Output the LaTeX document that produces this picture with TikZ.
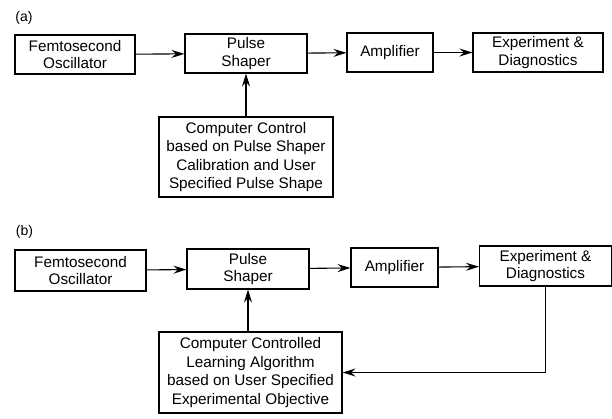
\documentclass[tikz,border=0pt]{standalone}
\usepackage{fontspec}
\setmainfont{Liberation Sans}
\usetikzlibrary{arrows.meta}
\begin{document}
\begin{tikzpicture}[x=1pt, y=-1pt, >={Stealth[length=13pt,width=8pt,inset=4.5pt]}, line width=1.1pt,
  block/.style={draw, align=center, inner sep=0pt, minimum height=39pt, font=\fontsize{15.3}{17.5}\selectfont}]
\useasboundingbox (0,0) rectangle (612,418);
% (a) open loop
\node at (24,18) (labela) {\fontsize{14}{16}\selectfont (a)};
\node[block, minimum width=120pt] at (75,54.5)  (osca)    {Femtosecond\\Oscillator};
\node[block, minimum width=122pt] at (246,53.5) (shapera) {Pulse\\Shaper};
\node[block, minimum width=86pt]  at (390,52.5) (ampa)    {Amplifier};
\node[block, minimum width=130pt] at (538,52.5) (expa)    {Experiment \&\\Diagnostics};
\node[block, minimum width=174pt, minimum height=80pt, font=\fontsize{15.3}{18.5}\selectfont] at (246,157) (ctrla)
  {Computer Control\\based on Pulse Shaper\\Calibration and User\\Specified Pulse Shape};
\draw[->] (osca) -- (shapera);
\draw[->] (shapera) -- (ampa);
\draw[->] (ampa) -- (expa);
\draw[->] (ctrla) -- (shapera);
% (b) closed loop
\node at (24.5,232) (labelb) {\fontsize{14}{16}\selectfont (b)};
\node[block, minimum width=131pt, minimum height=41pt] at (80.5,270.5) (oscb)    {Femtosecond\\Oscillator};
\node[block, minimum width=122pt, minimum height=40pt] at (248,269)    (shaperb) {Pulse\\Shaper};
\node[block, minimum width=87pt]                       at (394.5,267.5) (ampb)   {Amplifier};
\node[block, minimum width=132pt, minimum height=40pt] at (545.5,266)  (expb)    {Experiment \&\\Diagnostics};
\node[block, minimum width=183pt, minimum height=81pt, font=\fontsize{15.3}{18.5}\selectfont] at (250.5,372.5) (ctrlb)
  {Computer Controlled\\Learning Algorithm\\based on User Specified\\Experimental Objective};
\draw[->] (oscb) -- (shaperb);
\draw[->] (shaperb) -- (ampb);
\draw[->] (ampb) -- (expb);
\draw[->] (ctrlb.north -| shaperb.south) -- (shaperb.south);
\draw[->] (expb.south) |- (ctrlb.east);
\end{tikzpicture}
\end{document}
